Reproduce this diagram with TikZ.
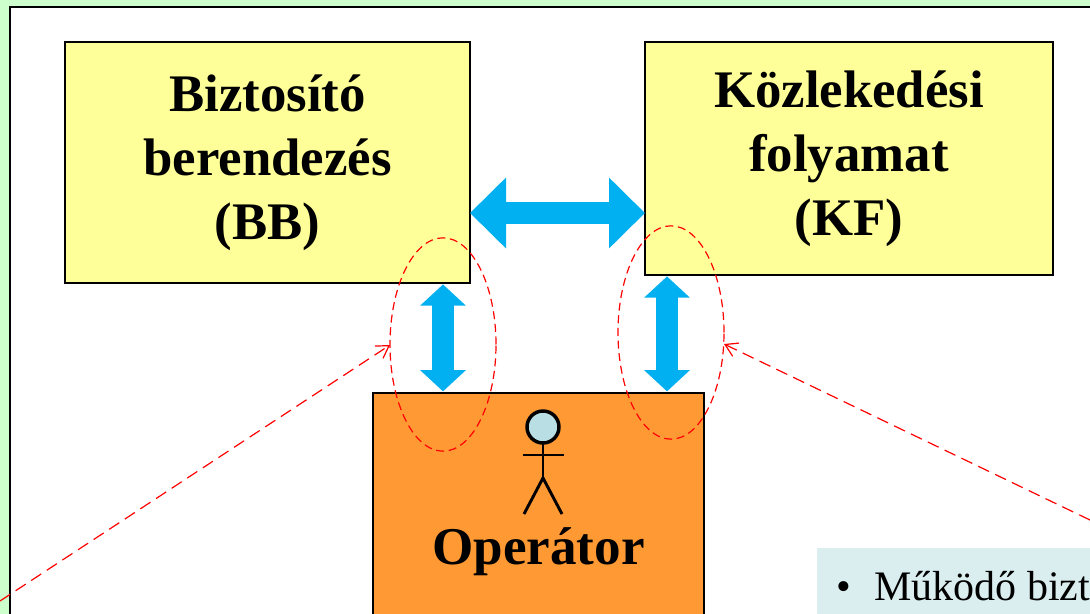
\documentclass[tikz,border=0pt]{standalone}
\usepackage{fontspec}
\setmainfont{Liberation Serif}
\usetikzlibrary{arrows.meta,shapes.geometric}
\definecolor{bggreen}{HTML}{CCFFCC}
\definecolor{boxyellow}{HTML}{FFFF99}
\definecolor{boxorange}{HTML}{FF9933}
\definecolor{flowblue}{HTML}{00B0F0}
\definecolor{notebox}{HTML}{DAEDEF}
\definecolor{headblue}{HTML}{B9DFE4}
\tikzset{
  pxbox/.style={draw=black,line width=1.5pt,rectangle,inner sep=0pt,outer sep=0pt,anchor=north west},
  yellowbox/.style={pxbox,fill=boxyellow,align=center,font=\bfseries\fontsize{39.6}{48}\selectfont},
  flowarrow/.style={draw=flowblue,line width=16.5pt,
    {Triangle[length=27pt,width=51.5pt]}-{Triangle[length=27pt,width=51.5pt]}},
  sidearrow/.style={draw=flowblue,line width=16.5pt,
    {Triangle[length=16pt,width=33.5pt]}-{Triangle[length=16pt,width=33.5pt]},shorten <=0.8pt,shorten >=1.2pt},
  ring/.style={ellipse,draw=red,dashed,dash pattern=on 6pt off 3.5pt,line width=0.9pt,inner sep=0pt,outer sep=0pt,minimum width=79.5pt,minimum height=160pt},
  pointer/.style={draw=red,line width=0.9pt,dash pattern=on 9pt off 5pt,-{Straight Barb[length=9pt,width=11pt,line width=0.9pt]}},
  figure/.style={line width=2.2pt,draw=black}
}
\begin{document}
\begin{tikzpicture}[x=0.75pt,y=-0.75pt]
\useasboundingbox (0,0) rectangle (1090,614);
\clip (0,0) rectangle (1090,614);
\fill[bggreen] (0,0) rectangle (1090,614);
\node[pxbox,fill=white,minimum width=900pt,minimum height=600pt] (panel) at (10,7) {};
\node[yellowbox,minimum width=303.75pt,minimum height=181pt] (bb) at (65,42) {Biztosító\\berendezés\\(BB)};
\node[yellowbox,minimum width=306pt,minimum height=175pt] (kf) at (645,42) {Közlekedési\\folyamat\\(KF)};
\node[pxbox,fill=boxorange,minimum width=248.25pt,minimum height=200pt] (op) at (373,393) {};
\node[font=\bfseries\fontsize{39.8}{48}\selectfont,inner sep=0pt] (oplabel) at (538.5,552) {Operátor};
\node[fill=notebox,inner sep=0pt,outer sep=0pt,anchor=north west,minimum width=300pt,minimum height=80pt] (note) at (817,548) {};
\node[font=\fontsize{31.5}{36}\selectfont,anchor=base west,inner sep=0pt] (bullet) at (836,600) {•};
\node[font=\fontsize{31.5}{36}\selectfont,anchor=base west,inner sep=0pt] (notetext) at (874,600) {Működő bizt};
% blue connectors
\coordinate (hy) at (0,213);
\coordinate (lx) at (443,0);
\coordinate (rx) at (667,0);
\draw[flowarrow] (bb.east |- hy) -- (kf.west |- hy);
\draw[sidearrow] (bb.south -| lx) -- (op.north -| lx);
\draw[sidearrow] (kf.south -| rx) -- (op.north -| rx);
% figure
\node[circle,draw=black,line width=2.6pt,fill=headblue,minimum size=24pt,inner sep=0pt,outer sep=0pt] (head) at (543,427) {};
\coordinate (hip) at (543,478);
\coordinate (armL) at (523,455);
\coordinate (armR) at (564,455);
\coordinate (legL) at (524,514);
\coordinate (legR) at (562,514);
\draw[figure] (head.south) -- (hip);
\draw[figure] (armL) -- (armR);
\draw[figure] (legL) -- (hip) -- (legR);
% red rings and pointers
\node[ring] (ringL) at (443,344.5) {};
\node[ring] (ringR) at (671,332.5) {};
\coordinate (startL) at (0,601);
\coordinate (startR) at (1090,520);
\draw[pointer] (startL) -- (ringL.west |- 0,345);
\draw[pointer] (startR) -- (ringR.east |- 0,344);
\end{tikzpicture}
\end{document}
